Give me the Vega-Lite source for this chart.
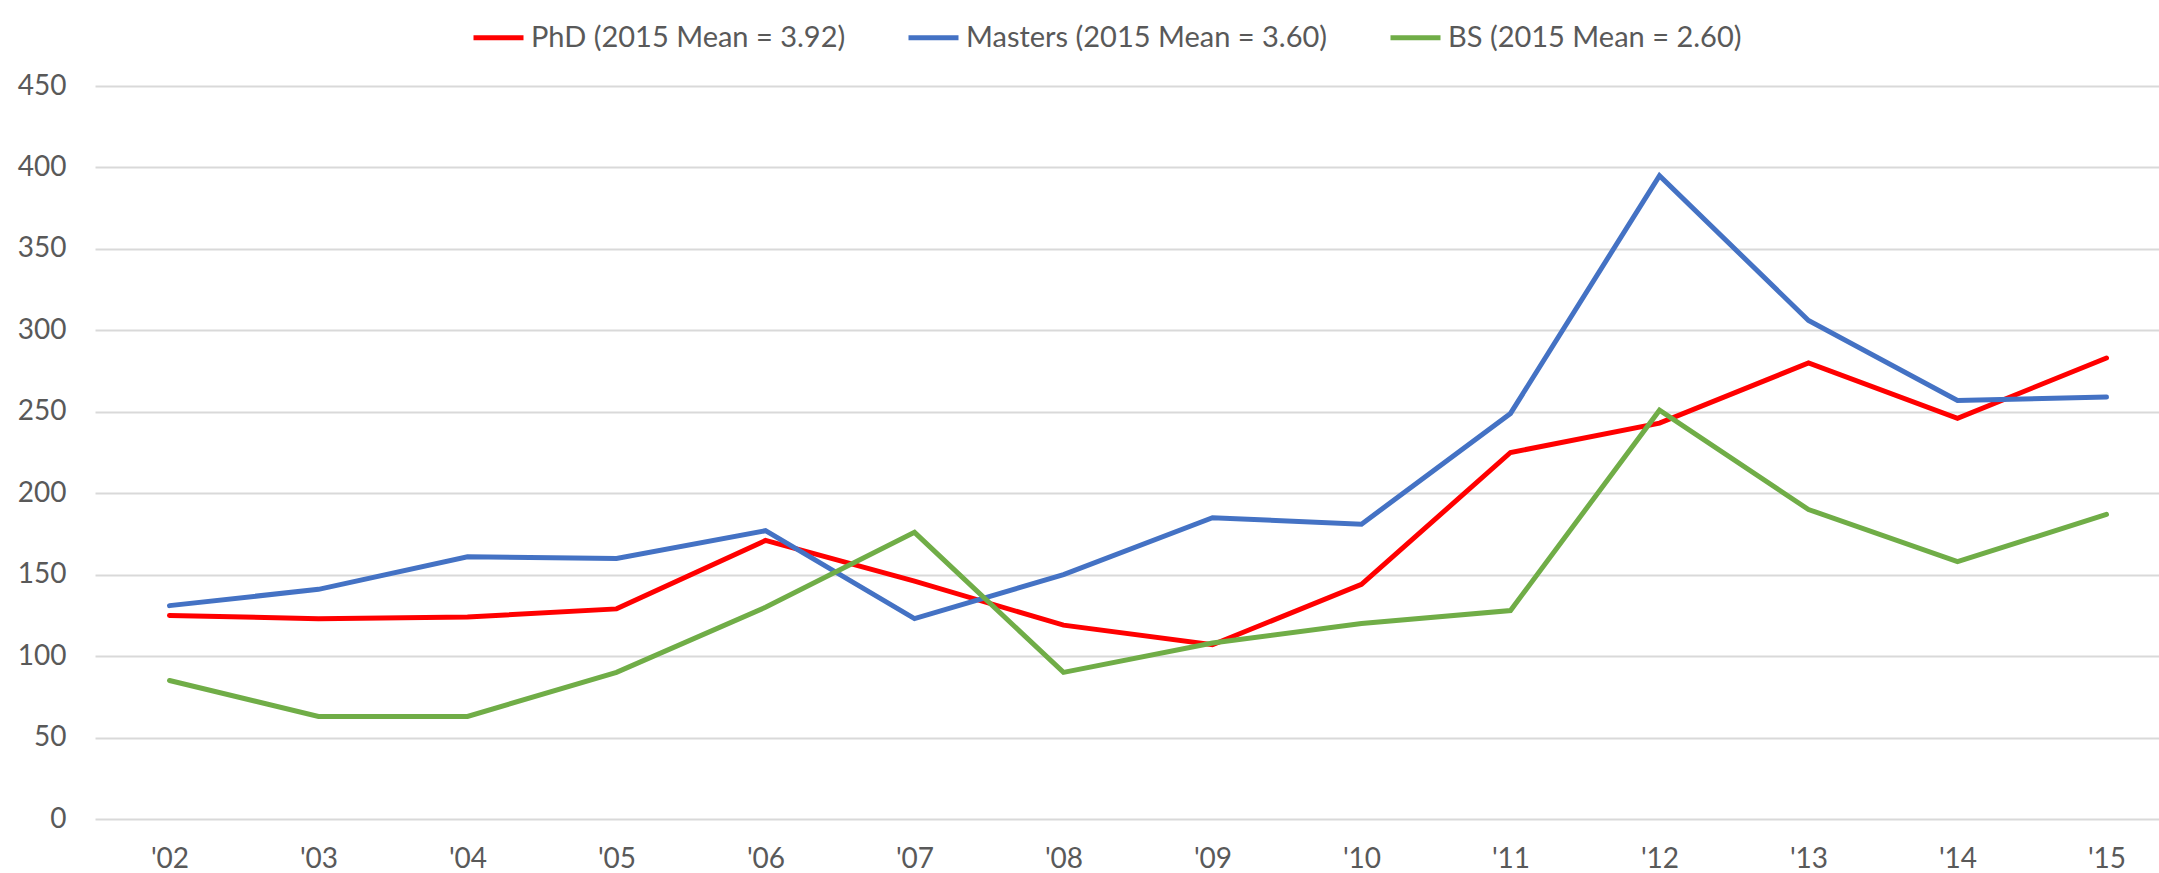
{
  "$schema": "https://vega.github.io/schema/vega-lite/v6.json",
  "autosize": "none",
  "width": 2086,
  "height": 733,
  "padding": {"left": 95, "top": 86, "right": -22, "bottom": 54},
  "background": "white",
  "config": {
    "view": {"stroke": null},
    "font": "Lato",
    "axis": {"labelFont": "Lato", "labelColor": "#595959", "labelFontSize": 28, "domain": false, "ticks": false, "title": null},
    "legend": {"labelFont": "Lato"}
  },
  "data": {
    "values": [
      {"year": "'02", "series": "PhD (2015 Mean = 3.92)", "value": 125},
      {"year": "'03", "series": "PhD (2015 Mean = 3.92)", "value": 123},
      {"year": "'04", "series": "PhD (2015 Mean = 3.92)", "value": 124},
      {"year": "'05", "series": "PhD (2015 Mean = 3.92)", "value": 129},
      {"year": "'06", "series": "PhD (2015 Mean = 3.92)", "value": 171},
      {"year": "'07", "series": "PhD (2015 Mean = 3.92)", "value": 146},
      {"year": "'08", "series": "PhD (2015 Mean = 3.92)", "value": 119},
      {"year": "'09", "series": "PhD (2015 Mean = 3.92)", "value": 107},
      {"year": "'10", "series": "PhD (2015 Mean = 3.92)", "value": 144},
      {"year": "'11", "series": "PhD (2015 Mean = 3.92)", "value": 225},
      {"year": "'12", "series": "PhD (2015 Mean = 3.92)", "value": 243},
      {"year": "'13", "series": "PhD (2015 Mean = 3.92)", "value": 280},
      {"year": "'14", "series": "PhD (2015 Mean = 3.92)", "value": 246},
      {"year": "'15", "series": "PhD (2015 Mean = 3.92)", "value": 283},
      {"year": "'02", "series": "Masters (2015 Mean = 3.60)", "value": 131},
      {"year": "'03", "series": "Masters (2015 Mean = 3.60)", "value": 141},
      {"year": "'04", "series": "Masters (2015 Mean = 3.60)", "value": 161},
      {"year": "'05", "series": "Masters (2015 Mean = 3.60)", "value": 160},
      {"year": "'06", "series": "Masters (2015 Mean = 3.60)", "value": 177},
      {"year": "'07", "series": "Masters (2015 Mean = 3.60)", "value": 123},
      {"year": "'08", "series": "Masters (2015 Mean = 3.60)", "value": 150},
      {"year": "'09", "series": "Masters (2015 Mean = 3.60)", "value": 185},
      {"year": "'10", "series": "Masters (2015 Mean = 3.60)", "value": 181},
      {"year": "'11", "series": "Masters (2015 Mean = 3.60)", "value": 249},
      {"year": "'12", "series": "Masters (2015 Mean = 3.60)", "value": 395},
      {"year": "'13", "series": "Masters (2015 Mean = 3.60)", "value": 306},
      {"year": "'14", "series": "Masters (2015 Mean = 3.60)", "value": 257},
      {"year": "'15", "series": "Masters (2015 Mean = 3.60)", "value": 259},
      {"year": "'02", "series": "BS (2015 Mean = 2.60)", "value": 85},
      {"year": "'03", "series": "BS (2015 Mean = 2.60)", "value": 63},
      {"year": "'04", "series": "BS (2015 Mean = 2.60)", "value": 63},
      {"year": "'05", "series": "BS (2015 Mean = 2.60)", "value": 90},
      {"year": "'06", "series": "BS (2015 Mean = 2.60)", "value": 130},
      {"year": "'07", "series": "BS (2015 Mean = 2.60)", "value": 176},
      {"year": "'08", "series": "BS (2015 Mean = 2.60)", "value": 90},
      {"year": "'09", "series": "BS (2015 Mean = 2.60)", "value": 108},
      {"year": "'10", "series": "BS (2015 Mean = 2.60)", "value": 120},
      {"year": "'11", "series": "BS (2015 Mean = 2.60)", "value": 128},
      {"year": "'12", "series": "BS (2015 Mean = 2.60)", "value": 251},
      {"year": "'13", "series": "BS (2015 Mean = 2.60)", "value": 190},
      {"year": "'14", "series": "BS (2015 Mean = 2.60)", "value": 158},
      {"year": "'15", "series": "BS (2015 Mean = 2.60)", "value": 187}
    ]
  },
  "mark": {"type": "line", "strokeWidth": 5, "strokeCap": "round", "strokeJoin": "miter"},
  "encoding": {
    "x": {
      "field": "year",
      "type": "ordinal",
      "sort": null,
      "scale": {"type": "point", "padding": 0.5},
      "axis": {"labelAngle": 0, "labelPadding": 26, "grid": false}
    },
    "y": {
      "field": "value",
      "type": "quantitative",
      "scale": {"domain": [0, 450], "nice": false},
      "axis": {"values": [0, 50, 100, 150, 200, 250, 300, 350, 400, 450], "grid": true, "gridColor": "#d9d9d9", "gridWidth": 2, "labelPadding": 29}
    },
    "color": {
      "field": "series",
      "type": "nominal",
      "sort": ["PhD (2015 Mean = 3.92)", "Masters (2015 Mean = 3.60)", "BS (2015 Mean = 2.60)"],
      "scale": {
        "domain": ["PhD (2015 Mean = 3.92)", "Masters (2015 Mean = 3.60)", "BS (2015 Mean = 2.60)"],
        "range": ["#ff0000", "#4472c4", "#70ad47"]
      },
      "legend": {
        "title": null,
        "orient": "none",
        "direction": "horizontal",
        "legendX": 376,
        "legendY": -76,
        "symbolType": "stroke",
        "symbolSize": 2500,
        "symbolStrokeWidth": 5,
        "labelFontSize": 29,
        "labelColor": "#595959",
        "labelOffset": 5,
        "columnPadding": 52,
        "labelLimit": 600
      }
    }
  }
}
